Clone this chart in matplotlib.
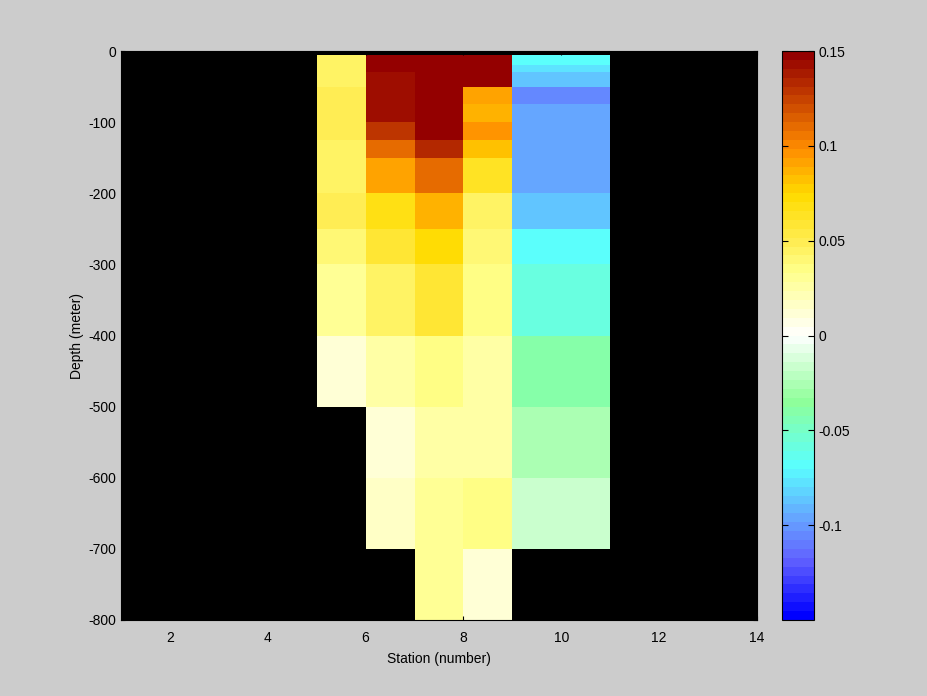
import numpy as np
import matplotlib
matplotlib.use("Agg")
import matplotlib.pyplot as plt
from matplotlib.colors import LinearSegmentedColormap

# ── grid (cell edges) ──
station_edges = [5, 6, 7, 8, 9, 11]
depth_edges = [-5, -20, -30, -50, -75, -100, -125, -150, -200,
               -250, -300, -400, -500, -600, -700, -800]

# ── anomaly values, one list per station column (top -> bottom) ──
nan = np.nan
st5 = [0.045, 0.045, 0.045, 0.050, 0.050, 0.050, 0.045, 0.045,
       0.050, 0.040, 0.030, 0.010, nan, nan, nan]
st6 = [0.148, 0.148, 0.142, 0.142, 0.142, 0.128, 0.108, 0.093,
       0.068, 0.060, 0.045, 0.028, 0.014, 0.018, nan]
st7 = [0.148, 0.148, 0.148, 0.148, 0.148, 0.148, 0.133, 0.112,
       0.088, 0.071, 0.057, 0.036, 0.028, 0.032, 0.032]
st8 = [0.148, 0.148, 0.148, 0.092, 0.085, 0.096, 0.081, 0.062,
       0.045, 0.040, 0.036, 0.028, 0.028, 0.036, 0.010]
st9 = [-0.068, -0.078, -0.085, -0.105, -0.097, -0.097, -0.097, -0.097,
       -0.085, -0.068, -0.058, -0.038, -0.027, -0.018, nan]

x_ticks = [2, 4, 6, 8, 10, 12, 14]
y_ticks = [0, -100, -200, -300, -400, -500, -600, -700, -800]
cb_ticks = [0.15, 0.1, 0.05, 0, -0.05, -0.1]
vmin, vmax = -0.15, 0.15

# ── custom diverging map: blue - cyan - green - white - yellow - orange - dark red ──
anchors = [
    (-0.15, (0.0, 0.0, 1.0)),
    (-0.12, (0.38, 0.38, 1.0)),
    (-0.10, (0.40, 0.62, 1.0)),
    (-0.07, (0.35, 1.0, 1.0)),
    (-0.035, (0.56, 1.0, 0.60)),
    (0.0, (1.0, 1.0, 1.0)),
    (0.035, (1.0, 1.0, 0.53)),
    (0.05, (1.0, 0.93, 0.33)),
    (0.075, (1.0, 0.86, 0.0)),
    (0.10, (1.0, 0.55, 0.0)),
    (0.15, (0.58, 0.0, 0.0)),
]
cmap = LinearSegmentedColormap.from_list(
    "anom", [((v - vmin) / (vmax - vmin), c) for v, c in anchors], N=64)

plt.rcParams.update({
    "font.family": ["Liberation Sans", "DejaVu Sans"],
    "font.size": 10,
    "axes.unicode_minus": False,
    "xtick.direction": "in",
    "ytick.direction": "in",
})

C = np.ma.masked_invalid(np.array([st5, st6, st7, st8, st9]).T)

fig = plt.figure(figsize=(9.28, 6.96), dpi=100, facecolor="#cccccc")
ax = fig.add_axes([0.1304, 0.1092, 0.6853, 0.8175])
ax.set_facecolor("black")
mesh = ax.pcolormesh(station_edges, depth_edges, C, cmap=cmap,
                     vmin=vmin, vmax=vmax, shading="flat")
ax.set_xlim(1, 14)
ax.set_ylim(-800, 0)
ax.set_xticks(x_ticks)
ax.set_yticks(y_ticks)
ax.tick_params(top=True, right=True, length=3, color="black")
ax.tick_params(axis="x", pad=8)
ax.set_xlabel("Station (number)", labelpad=5)
ax.set_ylabel("Depth (meter)", labelpad=3)

cax = fig.add_axes([0.8427, 0.1092, 0.0345, 0.8175])
cb = fig.colorbar(mesh, cax=cax)
cb.set_ticks(cb_ticks)
cb.set_ticklabels(["0.15", "0.1", "0.05", "0", "-0.05", "-0.1"])
cax.tick_params(direction="in", left=True, right=True, length=4, pad=3)
cb.outline.set_edgecolor("black")

fig.savefig("out.png", dpi=100, facecolor=fig.get_facecolor())
